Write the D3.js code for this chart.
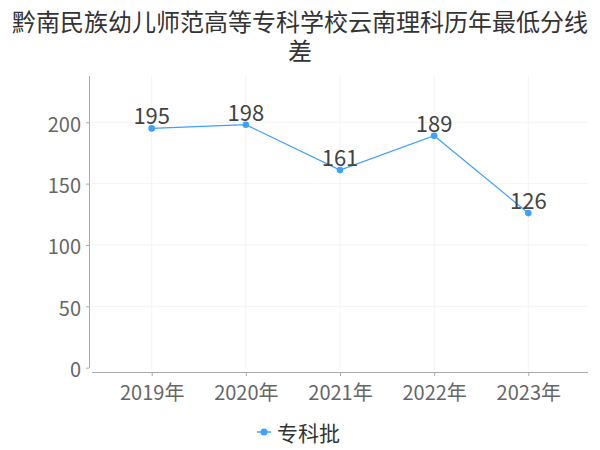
<!DOCTYPE html>
<html><head><meta charset="utf-8">
<script src="https://cdn.jsdelivr.net/npm/d3@7"></script>
<style>body{margin:0;background:#fff;}#wrap{position:relative;width:600px;height:450px;}svg{display:block;font-family:"Noto Sans CJK SC","Noto Sans",sans-serif;}
#title{position:absolute;left:5px;top:6px;width:590px;text-align:center;font-family:"Noto Sans CJK SC","Noto Sans",sans-serif;font-size:24px;line-height:29px;color:#333;word-break:break-all;}</style>
</head><body>
<div id="wrap"><svg id="c" width="600" height="450"></svg></div>
<script>
const titleText = "黔南民族幼儿师范高等专科学校云南理科历年最低分线差";
const categories = ["2019年", "2020年", "2021年", "2022年", "2023年"];
const values = [195, 198, 161, 189, 126];
const yTicks = [0, 50, 100, 150, 200];
const seriesName = "专科批";
const color = "#3ea0ff";
const FONT = '"Noto Sans CJK SC","Noto Sans",sans-serif';

const svg = d3.select("#c");
const x = d3.scalePoint().domain(categories).range([151.7, 528.3]);
const y = d3.scaleLinear().domain([0, 237.7]).range([367.7, 76]);

// title (wraps naturally into two lines)
d3.select("#wrap").append("div").attr("id", "title").text(titleText);

// grid
svg.append("g").selectAll("line").data(yTicks.slice(1)).join("line")
  .attr("x1", 92).attr("x2", 588).attr("y1", d => y(d)).attr("y2", d => y(d))
  .attr("stroke", "#f3f3f3").attr("stroke-width", 1);
svg.append("g").selectAll("line").data(categories).join("line")
  .attr("x1", d => x(d)).attr("x2", d => x(d)).attr("y1", 76).attr("y2", 370)
  .attr("stroke", "#f3f3f3").attr("stroke-width", 1);

// y axis
const ya = svg.append("g").attr("transform", "translate(89,0)")
  .call(d3.axisLeft(y).tickValues(yTicks).tickSize(3).tickPadding(5));
ya.attr("font-family", FONT);
ya.select(".domain").attr("stroke", "#aaa").attr("d", "M0.5,76V368");
ya.selectAll(".tick line").attr("stroke", "#aaa");
ya.selectAll("text").attr("font-size", 20).attr("fill", "#666").attr("dy", "0.45em");

// x axis
const xa = svg.append("g").attr("transform", "translate(0,372)")
  .call(d3.axisBottom(x).tickSize(4).tickPadding(10));
xa.attr("font-family", FONT);
xa.select(".domain").attr("stroke", "#aaa").attr("d", "M92,0.5H588");
xa.selectAll(".tick line").attr("stroke", "#aaa");
xa.selectAll("text").attr("font-size", 20).attr("fill", "#666");

// line
const pts = categories.map((c, i) => [x(c), y(values[i])]);
svg.append("path").attr("d", d3.line()(pts)).attr("fill", "none")
  .attr("stroke", color).attr("stroke-width", 1.2);
svg.append("g").selectAll("circle").data(pts).join("circle")
  .attr("cx", d => d[0]).attr("cy", d => d[1]).attr("r", 3.3).attr("fill", color);
svg.append("g").selectAll("text").data(values).join("text")
  .attr("x", (d, i) => x(categories[i])).attr("y", d => y(d) - 4)
  .attr("text-anchor", "middle").attr("font-size", 22).attr("fill", "#444").text(d => d);

// legend
const lg = svg.append("g").attr("transform", "translate(264,432)");
lg.append("line").attr("x1", -7).attr("x2", 7).attr("stroke", color).attr("stroke-width", 1.5);
lg.append("circle").attr("r", 3.5).attr("fill", color);
lg.append("text").attr("x", 13).attr("dominant-baseline", "central")
  .attr("font-size", 21).attr("fill", "#333").text(seriesName);
</script>
</body></html>
